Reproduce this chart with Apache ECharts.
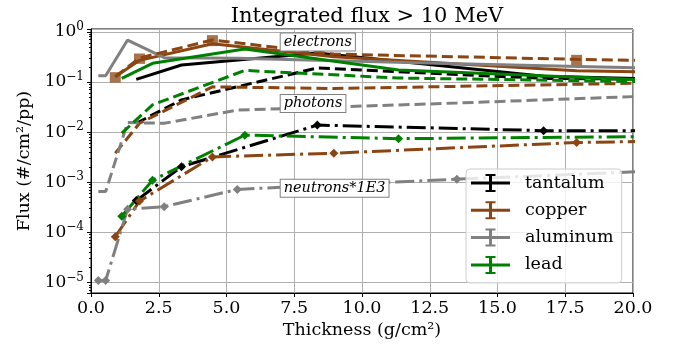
<!DOCTYPE html>
<html>
<head>
<meta charset="utf-8">
<script src="https://cdn.jsdelivr.net/npm/echarts@6/dist/echarts.min.js"></script>
<style>
  html, body { margin: 0; padding: 0; background: #fff; }
  #chart { width: 678px; height: 350px; }
</style>
</head>
<body>
<div id="chart"></div>
<script>
// thickness (g/cm2) of each simulated slab
const taX = [1.67, 3.34, 8.35, 16.7, 33.4];
const cuX = [0.896, 1.79, 4.48, 8.96, 17.92, 35.84];
const alX = [0.27, 0.54, 1.35, 2.7, 5.4, 13.5, 27];
const pbX = [1.135, 2.27, 5.675, 11.35, 22.7];

// flux (#/cm2/pp), neutrons already scaled by 1E3
const taElectrons = [0.113, 0.218, 0.38, 0.13, 0.078];
const taPhotons = [0.015, 0.044, 0.19, 0.118, 0.1];
const taNeutrons = [4.3e-4, 2.04e-3, 1.38e-2, 1.07e-2, 1.07e-2];

const cuElectrons = [0.127, 0.27, 0.58, 0.32, 0.168, 0.113];
const cuElectrons2 = [0.127, 0.3, 0.69, 0.36, 0.283, 0.2];
const cuElectrons2Err = [0.03, 0.07, 0.17, 0, 0.065, 0];
const cuPhotons = [0.0038, 0.015, 0.08, 0.074, 0.09, 0.13];
const cuNeutrons = [8.2e-5, 4.2e-4, 3.2e-3, 3.8e-3, 6.2e-3, 9e-3];

const alElectrons = [0.133, 0.133, 0.686, 0.305, 0.296, 0.23, 0.16];
const alPhotons = [6.5e-4, 6.5e-4, 0.0155, 0.015, 0.0275, 0.038, 0.07];
const alNeutrons = [1.09e-5, 1.09e-5, 2.9e-4, 3.25e-4, 7.2e-4, 1.15e-3, 2.3e-3];

const pbElectrons = [0.118, 0.236, 0.454, 0.174, 0.098];
const pbPhotons = [0.0095, 0.035, 0.17, 0.12, 0.097];
const pbNeutrons = [2.1e-4, 1.1e-3, 8.7e-3, 7.4e-3, 8.3e-3];

const xTicks = { min: 0, max: 20, step: 2.5 };
const notes = [
  ['electrons', 7, 0.63],
  ['photons', 7, 0.037],
  ['neutrons*1E3', 7, 7.6e-4],
];

const font = 'DejaVu Serif';
const materials = [
  { name: 'tantalum', color: '#000000', x: taX, e: taElectrons, p: taPhotons, n: taNeutrons },
  { name: 'copper', color: '#8b4513', x: cuX, e: cuElectrons, p: cuPhotons, n: cuNeutrons },
  { name: 'aluminum', color: '#808080', x: alX, e: alElectrons, p: alPhotons, n: alNeutrons },
  { name: 'lead', color: '#008000', x: pbX, e: pbElectrons, p: pbPhotons, n: pbNeutrons },
];

function pairs(xs, ys) {
  return xs.map((x, i) => [x, ys[i]]);
}

function lineSeries(name, color, xs, ys, dash, marker) {
  return {
    type: 'line',
    name,
    data: pairs(xs, ys),
    symbol: marker ? 'diamond' : 'none',
    symbolSize: 9,
    showAllSymbol: true,
    itemStyle: { color },
    lineStyle: { color, width: 3, type: dash },
    clip: true,
    silent: true,
  };
}

const series = [];
materials.forEach((m) => {
  series.push(lineSeries(m.name, m.color, m.x, m.e, 'solid'));
  series.push(lineSeries(m.name, m.color, m.x, m.p, [11, 5]));
  series.push(lineSeries(m.name, m.color, m.x, m.n, [19, 5, 3, 5], true));
});
series.push(lineSeries('copper', '#8b4513', cuX, cuElectrons2, [11, 5]));
series.push({
  type: 'custom',
  clip: true,
  silent: true,
  data: cuX.map((x, i) => [x, cuElectrons2[i], cuElectrons2Err[i]]),
  renderItem: (params, api) => {
    const x = api.value(0);
    const y = api.value(1);
    const err = api.value(2);
    if (!err) return null;
    const top = api.coord([x, y + err]);
    const bot = api.coord([x, y - err]);
    return {
      type: 'rect',
      shape: { x: top[0] - 5.5, y: top[1], width: 11, height: bot[1] - top[1] },
      style: { fill: 'rgba(139,69,19,0.75)' },
    };
  },
});

const chart = echarts.init(document.getElementById('chart'));
chart.setOption({
  animation: false,
  backgroundColor: '#fff',
  title: {
    text: 'Integrated flux > 10 MeV',
    left: 362,
    top: 1,
    textAlign: 'center',
    textStyle: { fontFamily: font, fontSize: 21, fontWeight: 'normal', color: '#000' },
  },
  grid: {
    left: 91, right: 45, top: 29, bottom: 57,
    show: true, borderColor: '#000', borderWidth: 1,
  },
  legend: {
    left: 466,
    top: 169,
    orient: 'vertical',
    itemWidth: 39,
    itemHeight: 18,
    itemGap: 9.3,
    padding: [5, 8, 9, 5],
    backgroundColor: 'rgba(255,255,255,0.8)',
    borderColor: '#cccccc',
    borderWidth: 1,
    borderRadius: 4,
    selectedMode: false,
    icon: 'path://M0 7.5h39v3h-39z M18 0h3v18h-3z M14.5 0h10v2h-10z M14.5 16h10v2h-10z',
    textStyle: { fontFamily: font, fontSize: 17.5, color: '#000', padding: [0, 0, 0, 10] },
    data: materials.map((m) => ({ name: m.name, itemStyle: { color: m.color, borderWidth: 0 } })),
  },
  xAxis: {
    type: 'value',
    min: xTicks.min,
    max: xTicks.max,
    interval: xTicks.step,
    name: 'Thickness (g/cm²)',
    nameLocation: 'middle',
    nameGap: 26,
    nameTextStyle: { fontFamily: font, fontSize: 17.5, color: '#000' },
    axisLine: { show: true, onZero: false, lineStyle: { color: '#000', width: 1 } },
    axisTick: { show: true, length: 4, lineStyle: { color: '#000' } },
    axisLabel: { fontFamily: font, fontSize: 17.5, color: '#000', margin: 6, formatter: (v) => v.toFixed(1) },
    splitLine: { show: true, lineStyle: { color: '#b0b0b0', width: 1 } },
  },
  yAxis: {
    type: 'log',
    logBase: 10,
    min: 6.17e-6,
    max: 1.14,
    name: 'Flux (#/cm²/pp)',
    nameLocation: 'middle',
    nameGap: 53,
    nameRotate: 90,
    nameTextStyle: { fontFamily: font, fontSize: 17.5, color: '#000' },
    axisLine: { show: true, onZero: false, lineStyle: { color: '#000', width: 1 } },
    axisTick: { show: true, length: 4, lineStyle: { color: '#000' } },
    minorTick: { show: true, splitNumber: 9, length: 2, lineStyle: { color: '#000' } },
    axisLabel: {
      margin: 7,
      formatter: (v) => {
        const p = Math.log10(v);
        const e = Math.round(p);
        if (Math.abs(p - e) > 1e-6) return '';
        return '{b|10}{s|' + (e < 0 ? '\u2212' + -e : e) + '}';
      },
      rich: {
        b: { fontFamily: font, fontSize: 17, color: '#000', lineHeight: 22 },
        s: { fontFamily: font, fontSize: 12, color: '#000', lineHeight: 13, verticalAlign: 'top' },
      },
    },
    splitLine: { show: true, lineStyle: { color: '#b0b0b0', width: 1 } },
  },
  series,
});

chart.setOption({
  graphic: notes.map(([text, x, y]) => {
    const pt = chart.convertToPixel({ gridIndex: 0 }, [x, y]);
    return {
      type: 'text',
      x: pt[0],
      y: pt[1],
      z: 50,
      style: {
        text,
        font: 'italic 14.5px "DejaVu Serif"',
        fill: '#000',
        align: 'left',
        verticalAlign: 'middle',
        backgroundColor: '#fff',
        borderColor: '#808080',
        borderWidth: 1,
        padding: [1, 3],
      },
    };
  }),
});
</script>
</body>
</html>
